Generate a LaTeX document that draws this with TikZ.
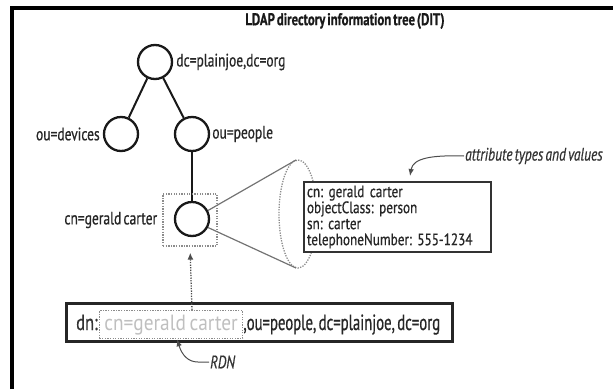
\documentclass[tikz,border=0pt]{standalone}
\usepackage{fontspec}
\setmainfont{PT Sans}[FakeStretch=0.75,WordSpace=0.6,FakeBold=0.6]
\newfontfamily\attrfont{PT Sans}[FakeStretch=0.8,WordSpace=0.6,FakeBold=0.6]
\newfontfamily\dnwide{PT Sans}[FakeStretch=0.88,WordSpace=0.7]
\newfontfamily\dnnarrow{PT Sans}[FakeStretch=0.67,WordSpace=0.6,FakeBold=0.6]
\frenchspacing
\usetikzlibrary{arrows.meta}

\begin{document}
\begin{tikzpicture}[x=1pt,y=-1pt,
  entry/.style={circle,draw=black!90,line width=2.3pt,minimum size=34pt,inner sep=0pt},
  link/.style={draw=black!90,line width=2pt},
  lbl/.style={font=\fontsize{18}{18}\selectfont,text=black!85,inner sep=1pt},
  note/.style={font=\itshape\fontsize{18}{18}\selectfont,text=black!80,inner sep=1pt},
  selbox/.style={draw=black!45,line width=1.3pt,dash pattern=on 1.3pt off 1.3pt},
  conel/.style={draw=black!55,line width=1.2pt},
  leader/.style={draw=black!70,line width=1pt,-{Latex[length=7pt,width=5.5pt]}},
  ptr/.style={draw=black!70,line width=1.3pt,dash pattern=on 1.3pt off 1.3pt,
    -{Latex[length=7pt,width=6pt]}},
  attrbox/.style={draw=black!80,line width=2pt,fill=white,
    font=\attrfont\fontsize{16.5}{16}\selectfont,text=black!85},
  dnfont/.style={font=\fontsize{22}{22}\selectfont,inner sep=0pt}
]
\useasboundingbox (0,0) rectangle (613,389);

% outer frame (left and top edges)
\draw[line width=4pt,line join=miter] (12,389) -- (12,8) -- (613,8);

% title
\node[font=\bfseries\fontsize{17}{17}\selectfont,text=black!90] (title) at (345,21)
  {LDAP directory information tree (DIT)};

% directory entries
\node[entry] (root) at (155,62) {};
\node[entry] (dev)  at (121,134) {};
\node[entry] (ppl)  at (192,134) {};
\node[entry] (cn)   at (192,219) {};

\draw[link] (root) -- (dev);
\draw[link] (root) -- (ppl);
\draw[link] (ppl) -- (cn);

\node[lbl,anchor=west] (rootlbl) at ([xshift=2pt]root.east) {dc=plainjoe,dc=org};
\node[lbl,anchor=east] (devlbl)  at ([xshift=-2pt]dev.west) {ou=devices};
\node[lbl,anchor=west] (ppllbl)  at ([xshift=1pt]ppl.east) {ou=people};

% selected entry
\node[selbox,minimum width=54pt,minimum height=52pt] (rdnsel) at (190,220) {};
\node[lbl,anchor=east] (cnlbl) at ([xshift=-4pt]rdnsel.west) {cn=gerald carter};

% attribute cone
\coordinate (ctop) at (296,160);
\coordinate (cbot) at (296,268);
\draw[selbox] (298,214) ellipse [x radius=19, y radius=54];
\draw[conel] (cn.28) -- (ctop);
\draw[conel] (cn.-28) -- (cbot);

\node[attrbox,anchor=north west,text width=181pt,minimum height=70pt,
  inner xsep=3pt,inner ysep=3pt,align=left] (attrs) at (303,181)
  {cn: gerald carter\\objectClass: person\\sn: carter\\telephoneNumber: 555-1234};

\node[note,anchor=west] (attrnote) at (464,156) {attribute types and values};
\coordinate (attrtip) at (410,176);
\draw[leader] (attrnote.west) .. controls (432,155) and (413,158) .. (attrtip);

% distinguished name
\node[draw=black!85,line width=3pt,minimum width=386pt,minimum height=38pt] (dn) at (259,322) {};
\node[dnfont,text=black!80,anchor=base west] (dnlbl) at (76,330) {dn:};
\node[dnfont,font=\dnwide\fontsize{22}{22}\selectfont,text=black!25,selbox,
  inner xsep=2pt,minimum width=143pt,minimum height=28pt,anchor=base west]
  (rdn) at ([xshift=1pt]dnlbl.base east) {cn=gerald carter};
\node[dnfont,font=\dnnarrow\fontsize{22}{22}\selectfont,text=black!85,anchor=base west]
  (dnrest) at (rdn.base east) {,ou=people, dc=plainjoe, dc=org};

\draw[ptr,shorten >=6pt] (rdn.north -| cn.center) -- (rdnsel.south);

\node[note,anchor=west] (rdnnote) at (209,362) {RDN};
\coordinate (rdntip) at ([xshift=6pt]rdn.south);
\draw[leader] (rdnnote.west) -- (198,362) .. controls (188,362) and (182,355) .. (rdntip);
\end{tikzpicture}
\end{document}
